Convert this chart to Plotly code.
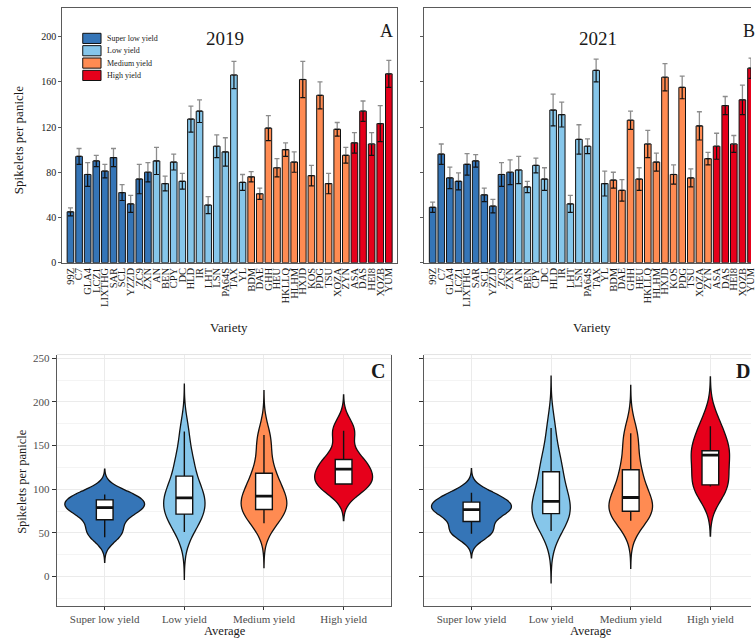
import numpy as np
import plotly.graph_objects as go

FIG_W, FIG_H = 756, 644
SERIF = "Liberation Serif, Times New Roman, serif"

group_names = ["Super low yield", "Low yield", "Medium yield", "High yield"]
group_colors = ["#3575B7", "#86C6EA", "#FF8B52", "#E6001B"]

varieties_super_low = ["99Z", "C7", "GLA4", "LCZ1", "LIXTHG", "SAR", "SCL", "YZZD", "ZC9", "ZXN"]
varieties_low = ["AN", "BEN", "CPY", "DC", "HLD", "IR", "LHT", "LSN", "PA64S", "TAX", "YL"]
varieties_medium = ["BDM", "DAE", "GHH", "HEU", "HKLLQ", "HLHM", "HXJD", "KOS", "PDG", "TSU", "XOZA", "ZYN"]
varieties_high = ["ASA", "DAS", "HEI8", "XOZB", "YUM"]

# Spikelets per panicle, 2019: variety means and standard errors
spp2019_super_low = [45, 94, 78, 90, 81, 93, 62, 52, 74, 80]
se2019_super_low = [3.5, 7, 10.5, 5, 6, 8, 7, 7.5, 13, 8.5]
spp2019_low = [90, 70, 89, 72, 127, 134, 51, 103, 98, 166, 71]
se2019_low = [12, 6.5, 7, 7, 11.5, 10, 7.5, 10, 12.5, 12, 7]
spp2019_medium = [76, 61, 119, 84, 100, 89, 162, 77, 148, 70, 118, 95]
se2019_medium = [4.5, 5, 11, 8, 6, 9, 16, 9, 12, 9, 6, 7]
spp2019_high = [106, 134, 105, 123, 167]
se2019_high = [9, 9, 10, 16, 12]

# Spikelets per panicle, 2021: variety means and standard errors
spp2021_super_low = [49, 96, 75, 72, 87, 90, 60, 50, 78, 80]
se2021_super_low = [4.5, 9, 9.5, 7.5, 9.5, 5.5, 6, 6, 10.5, 11]
spp2021_low = [82, 67, 86, 74, 135, 131, 52, 109, 103, 170, 70]
se2021_low = [12, 5, 6.5, 10, 14, 11, 7.5, 13, 6.5, 10, 11]
spp2021_medium = [73, 64, 126, 74, 105, 89, 164, 78, 155, 75, 121, 92]
se2021_medium = [7, 9.5, 8, 10, 12, 8, 12, 8.5, 10, 8, 12.5, 5.5]
spp2021_high = [103, 139, 105, 144, 172]
se2021_high = [11.5, 8, 7.5, 13, 9]

bar_ticks = [0, 40, 80, 120, 160, 200]
violin_ticks = [0, 50, 100, 150, 200, 250]

varieties = [varieties_super_low, varieties_low, varieties_medium, varieties_high]
year_data = {
    2019: ([spp2019_super_low, spp2019_low, spp2019_medium, spp2019_high],
           [se2019_super_low, se2019_low, se2019_medium, se2019_high]),
    2021: ([spp2021_super_low, spp2021_low, spp2021_medium, spp2021_high],
           [se2021_super_low, se2021_low, se2021_medium, se2021_high]),
}
all_varieties = [v for grp in varieties for v in grp]


def px(x):
    return x / FIG_W


def py(y):
    return 1 - y / FIG_H


fig = go.Figure()

# ---------------- bar panels (A: 2019, B: 2021) ----------------
for year, xa, ya in [(2019, "x", "y"), (2021, "x2", "y2")]:
    means, ses = year_data[year]
    for names, vals, errs, col in zip(varieties, means, ses, group_colors):
        fig.add_trace(go.Bar(
            x=names, y=vals, xaxis=xa, yaxis=ya, showlegend=False,
            marker=dict(color=col, line=dict(color="#111111", width=1)),
            error_y=dict(type="data", symmetric=False, array=errs,
                         arrayminus=[0] * len(errs), color="#8C8C8C",
                         thickness=1.3, width=2.5),
        ))
    # dark lower half of the error bars, drawn over the bars
    flat_vals = [v for grp in means for v in grp]
    flat_errs = [e for grp in ses for e in grp]
    fig.add_trace(go.Scatter(
        x=all_varieties, y=flat_vals, xaxis=xa, yaxis=ya, mode="markers",
        marker=dict(size=1, color="rgba(0,0,0,0)"), showlegend=False,
        error_y=dict(type="data", symmetric=False, array=[0] * len(flat_errs),
                     arrayminus=flat_errs, color="#111111", thickness=1.2, width=2.5),
        hoverinfo="skip",
    ))

# ---------------- violin panels (C: 2019, D: 2021) ----------------
BOX_W = 0.21
VIOLIN_MAX_W = 1.0


def nrd0(v):
    v = np.asarray(v, float)
    sd = v.std(ddof=1)
    q75, q25 = np.percentile(v, [75, 25])
    return 0.9 * min(sd, (q75 - q25) / 1.34) * len(v) ** -0.2


def kde_peak(v, bw):
    v = np.asarray(v, float)
    grid = np.linspace(v.min() - 3 * bw, v.max() + 3 * bw, 512)
    dens = np.exp(-0.5 * ((grid[:, None] - v[None, :]) / bw) ** 2).sum(1)
    return (dens / (len(v) * bw * np.sqrt(2 * np.pi))).max()


for year, xa, ya in [(2019, "x3", "y3"), (2021, "x4", "y4")]:
    means, _ = year_data[year]
    bws = [nrd0(v) for v in means]
    peaks = [kde_peak(v, b) for v, b in zip(means, bws)]
    top_peak = max(peaks)
    med_x, med_y = [], []
    for i, (vals, bw, pk, col) in enumerate(zip(means, bws, peaks, group_colors)):
        arr = np.asarray(vals, float)
        fig.add_trace(go.Violin(
            x=[i] * len(vals), y=vals, xaxis=xa, yaxis=ya, showlegend=False,
            width=VIOLIN_MAX_W * pk / top_peak, scalemode="width",
            bandwidth=bw, spanmode="manual",
            span=[arr.min() - 3 * bw, arr.max() + 3 * bw],
            fillcolor=col, line=dict(color="#111111", width=1.3),
            points=False, box_visible=False, meanline_visible=False,
            opacity=1,
        ))
        q1, med, q3 = np.percentile(arr, [25, 50, 75])
        iqr = q3 - q1
        lf = arr[arr >= q1 - 1.5 * iqr].min()
        uf = arr[arr <= q3 + 1.5 * iqr].max()
        fig.add_trace(go.Box(
            x=[i], q1=[q1], median=[med], q3=[q3], lowerfence=[lf], upperfence=[uf],
            xaxis=xa, yaxis=ya, width=BOX_W, whiskerwidth=0, boxpoints=False,
            fillcolor="white", line=dict(color="#111111", width=1.4), showlegend=False,
        ))
        med_x += [i - BOX_W / 2, i + BOX_W / 2, None]
        med_y += [med, med, None]
    fig.add_trace(go.Scatter(
        x=med_x, y=med_y, xaxis=xa, yaxis=ya, mode="lines",
        line=dict(color="#111111", width=2.8), showlegend=False, hoverinfo="skip",
    ))

# ---------------- axes ----------------
BAR_L_A, BAR_R_A, BAR_L_B = 62.7, 400.0, 427.3
BAR_BOT, BAR_TOP = 264.0, 6.0
cat_lo, cat_hi = -0.95, 37.99
cat_unit = (BAR_R_A - BAR_L_A) / (cat_hi - cat_lo)
cat_hi_b = cat_lo + (FIG_W - BAR_L_B) / cat_unit
bar_ymax = 225.3

VIO_L_C, VIO_R_C, VIO_L_D = 57.3, 394.0, 426.5
VIO_BOT, VIO_TOP = 611.7, 357.0
vio_lo, vio_hi = -0.6, 3.6
vio_unit = (VIO_R_C - VIO_L_C) / (vio_hi - vio_lo)
vio_hi_d = vio_lo + (FIG_W - VIO_L_D) / vio_unit
vio_yrange = [-33.9, 254.2]

axis_line = "#5A5A5A"
bar_x_common = dict(type="category", categoryorder="array", categoryarray=all_varieties,
                    tickmode="array", tickvals=all_varieties, ticktext=all_varieties,
                    tickangle=-90, ticks="", showgrid=False, showline=True,
                    linecolor=axis_line, linewidth=1, zeroline=False,
                    tickfont=dict(family=SERIF, size=10.5, color="#1A1A1A"))
bar_y_common = dict(range=[0, bar_ymax], tickvals=bar_ticks, ticks="outside", ticklen=3,
                    tickcolor=axis_line, showgrid=False, showline=True,
                    linecolor=axis_line, linewidth=1, zeroline=False,
                    domain=[py(BAR_BOT), py(BAR_TOP)],
                    tickfont=dict(family=SERIF, size=10, color="#1A1A1A"))
vio_x_common = dict(tickvals=[0, 1, 2, 3], ticktext=group_names, ticks="outside",
                    ticklen=3, tickcolor="#333333", showgrid=True, gridcolor="#EBEBEB",
                    showline=True, linecolor=axis_line, linewidth=1.2, zeroline=False,
                    tickfont=dict(family=SERIF, size=11, color="#4D4D4D"))
vio_y_common = dict(range=vio_yrange, tickvals=violin_ticks, ticks="outside", ticklen=4,
                    tickcolor="#333333", showgrid=True, gridcolor="#EBEBEB",
                    minor=dict(dtick=25, tick0=0, showgrid=True, gridcolor="#F4F4F4", ticks=""),
                    showline=True, linecolor=axis_line, linewidth=1.2, zeroline=False,
                    domain=[py(VIO_BOT), py(VIO_TOP)],
                    tickfont=dict(family=SERIF, size=11, color="#4D4D4D"))

fig.update_layout(
    xaxis=dict(bar_x_common, domain=[px(BAR_L_A), px(BAR_R_A)], range=[cat_lo, cat_hi],
               anchor="y", mirror=True),
    yaxis=dict(bar_y_common, anchor="x", mirror=True),
    xaxis2=dict(bar_x_common, domain=[px(BAR_L_B), 1.0], range=[cat_lo, cat_hi_b],
                anchor="y2", mirror=True),
    yaxis2=dict(bar_y_common, anchor="x2", showticklabels=False),
    xaxis3=dict(vio_x_common, domain=[px(VIO_L_C), px(VIO_R_C)], range=[vio_lo, vio_hi],
                anchor="y3"),
    yaxis3=dict(vio_y_common, anchor="x3", mirror=True),
    xaxis4=dict(vio_x_common, domain=[px(VIO_L_D), 1.0], range=[vio_lo, vio_hi_d],
                anchor="y4"),
    yaxis4=dict(vio_y_common, anchor="x4", showticklabels=False),
    barmode="overlay", violinmode="overlay", boxmode="overlay", bargap=0.23,
    width=FIG_W, height=FIG_H, autosize=False,
    margin=dict(l=0, r=0, t=0, b=0),
    paper_bgcolor="white", plot_bgcolor="white",
    showlegend=False,
    font=dict(family=SERIF, color="#1A1A1A"),
)

# light top edge of the violin panels
shapes = []
for x0, x1 in [(VIO_L_C, VIO_R_C), (VIO_L_D, FIG_W)]:
    shapes.append(dict(type="line", xref="paper", yref="paper",
                       x0=px(x0), x1=px(x1), y0=py(VIO_TOP), y1=py(VIO_TOP),
                       line=dict(color="#E3E3E3", width=1)))

# legend of yield classes inside panel A
annotations = []
for k, (name, col) in enumerate(zip(group_names, group_colors)):
    top = 31.7 + k * 12.5
    shapes.append(dict(type="rect", xref="paper", yref="paper",
                       x0=px(83.3), x1=px(101.7), y0=py(top + 10.3), y1=py(top),
                       fillcolor=col, line=dict(color="#111111", width=1)))
    annotations.append(dict(text=name, xref="paper", yref="paper", x=px(106),
                            y=py(top + 5.2), xanchor="left", yanchor="middle",
                            showarrow=False, font=dict(family=SERIF, size=8, color="#1A1A1A")))


def label(text, x, y, size, angle=0, bold=False, color="#1A1A1A"):
    annotations.append(dict(text=f"<b>{text}</b>" if bold else text, xref="paper", yref="paper",
                            x=px(x), y=py(y), xanchor="center", yanchor="middle",
                            showarrow=False, textangle=angle,
                            font=dict(family=SERIF, size=size, color=color)))


label("Spikelets per panicle", 18, 139, 13, angle=-90)
label("Variety", 231, 330, 13)
label("Variety", 596, 330, 13)
label("2019", 227, 36.5, 19)
label("2021", 601.5, 36.5, 19)
label("A", 389, 29, 18)
label("B", 754, 29, 18)
label("Spikelets per panicle", 22, 485, 12.5, angle=-90)
label("Average", 226, 636.5, 12.5)
label("Average", 595, 636.5, 12.5)
label("C", 381, 374, 20, bold=True)
label("D", 748, 374, 20, bold=True)

fig.update_layout(shapes=shapes, annotations=annotations)

fig.write_html("out.html")
